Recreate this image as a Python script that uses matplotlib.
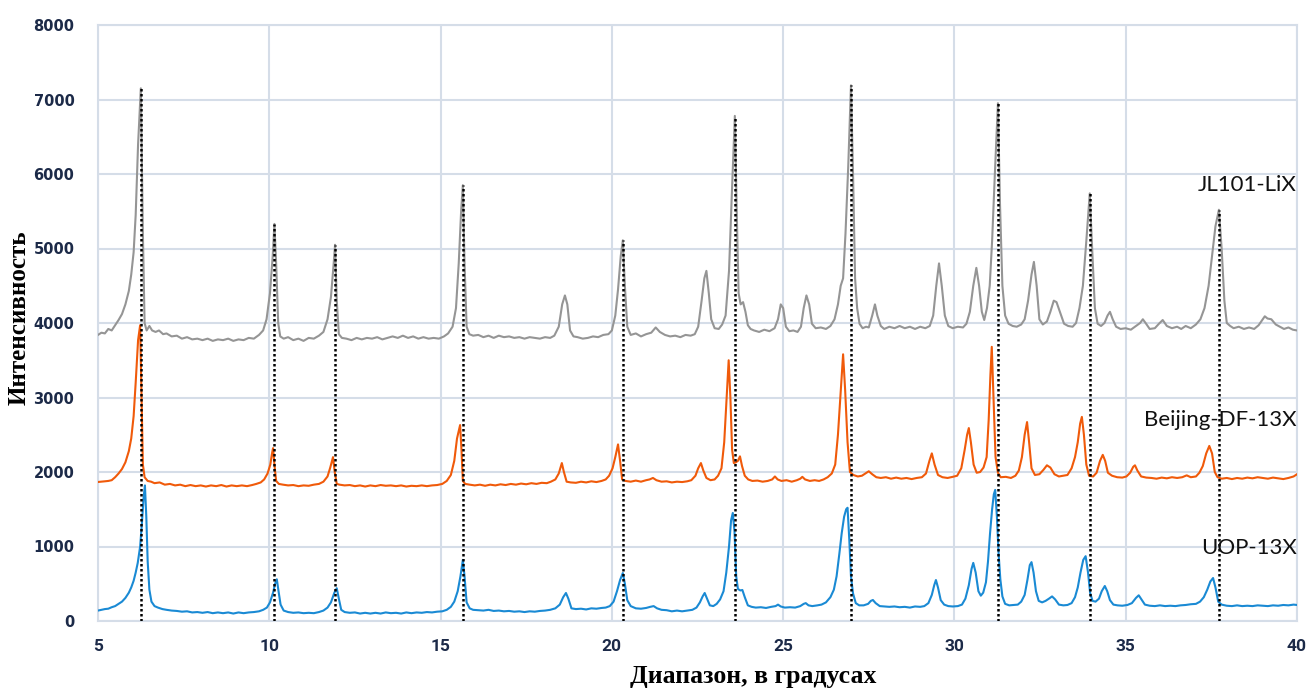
import numpy as np
import matplotlib
matplotlib.use('Agg')
import matplotlib.pyplot as plt

# 2theta / intensity points
lix_points = [
    (5.0, 3840), (5.1, 3870), (5.2, 3860), (5.3, 3920), (5.4, 3900), (5.5, 3970), (5.6, 4040),
    (5.7, 4120), (5.8, 4250), (5.9, 4430), (5.97, 4650), (6.04, 4950), (6.1, 5450), (6.17, 6400),
    (6.25, 7150), (6.31, 5200), (6.36, 4000), (6.42, 3900), (6.5, 3960), (6.58, 3900), (6.68, 3880),
    (6.78, 3900), (6.9, 3850), (7.0, 3860), (7.15, 3820), (7.3, 3830), (7.45, 3790), (7.6, 3810),
    (7.75, 3780), (7.9, 3790), (8.05, 3770), (8.2, 3790), (8.35, 3760), (8.5, 3780), (8.65, 3770),
    (8.8, 3790), (8.95, 3760), (9.1, 3780), (9.25, 3770), (9.4, 3800), (9.55, 3790), (9.7, 3840),
    (9.82, 3900), (9.92, 4050), (10.02, 4400), (10.1, 4900), (10.15, 5330), (10.2, 4800),
    (10.26, 4000), (10.32, 3820), (10.42, 3790), (10.55, 3810), (10.7, 3770), (10.85, 3790),
    (11.0, 3760), (11.15, 3800), (11.3, 3790), (11.45, 3830), (11.58, 3880), (11.7, 4050),
    (11.8, 4350), (11.88, 4800), (11.92, 5050), (11.97, 4300), (12.03, 3850), (12.12, 3800),
    (12.25, 3790), (12.4, 3770), (12.55, 3800), (12.7, 3780), (12.85, 3800), (13.0, 3790),
    (13.15, 3810), (13.3, 3780), (13.45, 3800), (13.6, 3820), (13.75, 3800), (13.9, 3830),
    (14.05, 3800), (14.2, 3820), (14.35, 3790), (14.5, 3810), (14.65, 3790), (14.8, 3800),
    (14.95, 3790), (15.1, 3820), (15.22, 3860), (15.35, 3950), (15.45, 4200), (15.53, 4800),
    (15.6, 5500), (15.65, 5850), (15.7, 4800), (15.76, 3950), (15.84, 3850), (15.95, 3830),
    (16.1, 3840), (16.25, 3810), (16.4, 3830), (16.55, 3800), (16.7, 3830), (16.85, 3810),
    (17.0, 3820), (17.15, 3800), (17.3, 3810), (17.45, 3790), (17.6, 3810), (17.75, 3800),
    (17.9, 3790), (18.05, 3810), (18.2, 3800), (18.32, 3830), (18.45, 3950), (18.55, 4250),
    (18.63, 4370), (18.7, 4250), (18.78, 3900), (18.88, 3820), (19.0, 3810), (19.15, 3790),
    (19.3, 3800), (19.45, 3820), (19.6, 3810), (19.75, 3840), (19.9, 3850), (20.0, 3900),
    (20.1, 4100), (20.18, 4450), (20.26, 4900), (20.32, 5110), (20.38, 4500), (20.45, 3950),
    (20.55, 3840), (20.7, 3860), (20.85, 3820), (21.0, 3850), (21.15, 3870), (21.28, 3940),
    (21.4, 3880), (21.55, 3840), (21.7, 3820), (21.85, 3830), (22.0, 3810), (22.15, 3840),
    (22.3, 3830), (22.42, 3850), (22.52, 3950), (22.62, 4300), (22.7, 4600), (22.76, 4700),
    (22.83, 4400), (22.9, 4050), (23.0, 3930), (23.12, 3920), (23.22, 3980), (23.32, 4100),
    (23.42, 4700), (23.5, 5700), (23.59, 6780), (23.65, 5400), (23.7, 4400), (23.76, 4250),
    (23.83, 4280), (23.9, 4150), (23.97, 3970), (24.05, 3920), (24.15, 3900), (24.3, 3880),
    (24.45, 3910), (24.6, 3890), (24.75, 3930), (24.85, 4050), (24.93, 4250), (25.0, 4200),
    (25.08, 3950), (25.18, 3890), (25.3, 3900), (25.42, 3880), (25.52, 3950), (25.6, 4200),
    (25.68, 4370), (25.76, 4250), (25.84, 3990), (25.95, 3930), (26.1, 3940), (26.25, 3920),
    (26.38, 3960), (26.5, 4050), (26.6, 4250), (26.68, 4500), (26.75, 4600), (26.82, 5200),
    (26.9, 6100), (26.98, 7190), (27.04, 6000), (27.1, 4600), (27.16, 4200), (27.23, 3990),
    (27.32, 3930), (27.42, 3950), (27.5, 3940), (27.6, 4100), (27.68, 4250), (27.75, 4100),
    (27.85, 3960), (27.95, 3920), (28.1, 3950), (28.25, 3930), (28.4, 3960), (28.55, 3930),
    (28.7, 3950), (28.85, 3920), (29.0, 3950), (29.15, 3930), (29.28, 3960), (29.38, 4100),
    (29.47, 4500), (29.55, 4800), (29.63, 4500), (29.72, 4100), (29.82, 3960), (29.95, 3930),
    (30.1, 3950), (30.25, 3940), (30.35, 3990), (30.45, 4150), (30.55, 4500), (30.64, 4740),
    (30.72, 4500), (30.8, 4150), (30.87, 4040), (30.95, 4200), (31.03, 4500), (31.1, 5100),
    (31.18, 6000), (31.27, 6950), (31.33, 5600), (31.4, 4500), (31.48, 4100), (31.58, 3990),
    (31.7, 3960), (31.82, 3950), (31.95, 3980), (32.05, 4050), (32.15, 4300), (32.25, 4650),
    (32.32, 4820), (32.4, 4500), (32.48, 4050), (32.58, 3980), (32.7, 4020), (32.8, 4150),
    (32.9, 4300), (32.98, 4280), (33.08, 4150), (33.2, 3990), (33.32, 3960), (33.45, 3950),
    (33.55, 4000), (33.65, 4200), (33.75, 4500), (33.85, 5100), (33.95, 5740), (34.02, 5000),
    (34.1, 4200), (34.18, 3990), (34.28, 3960), (34.38, 4000), (34.47, 4100), (34.54, 4150),
    (34.62, 4050), (34.72, 3950), (34.85, 3920), (35.0, 3930), (35.15, 3910), (35.3, 3960),
    (35.42, 4000), (35.5, 4050), (35.58, 4000), (35.7, 3920), (35.85, 3930), (35.97, 3990),
    (36.08, 4040), (36.2, 3960), (36.35, 3930), (36.5, 3950), (36.62, 3920), (36.75, 3960),
    (36.9, 3930), (37.05, 3980), (37.18, 4050), (37.3, 4200), (37.42, 4500), (37.52, 4900),
    (37.62, 5300), (37.72, 5520), (37.8, 5000), (37.88, 4300), (37.95, 4000), (38.05, 3960),
    (38.15, 3930), (38.3, 3950), (38.45, 3920), (38.6, 3940), (38.75, 3920), (38.88, 3970),
    (39.0, 4050), (39.06, 4090), (39.14, 4060), (39.25, 4050), (39.38, 3980), (39.5, 3950),
    (39.62, 3920), (39.75, 3940), (39.88, 3910), (40.0, 3900),
]

beijing_points = [
    (5.0, 1866), (5.1, 1870), (5.2, 1875), (5.3, 1880), (5.4, 1890), (5.5, 1930), (5.6, 1980),
    (5.7, 2040), (5.8, 2130), (5.9, 2280), (5.97, 2450), (6.04, 2750), (6.1, 3200), (6.17, 3770),
    (6.23, 3970), (6.27, 3000), (6.31, 2100), (6.36, 1930), (6.45, 1880), (6.55, 1870),
    (6.65, 1850), (6.8, 1860), (6.95, 1830), (7.1, 1840), (7.25, 1820), (7.4, 1830), (7.55, 1810),
    (7.7, 1825), (7.85, 1810), (8.0, 1820), (8.15, 1805), (8.3, 1820), (8.45, 1810), (8.6, 1825),
    (8.75, 1805), (8.9, 1820), (9.05, 1810), (9.2, 1820), (9.35, 1810), (9.5, 1825), (9.62, 1840),
    (9.75, 1860), (9.85, 1900), (9.95, 1980), (10.03, 2100), (10.08, 2250), (10.11, 2320),
    (10.15, 2100), (10.2, 1880), (10.28, 1840), (10.4, 1830), (10.55, 1820), (10.7, 1825),
    (10.85, 1810), (11.0, 1820), (11.15, 1815), (11.3, 1830), (11.45, 1840), (11.58, 1870),
    (11.7, 1940), (11.78, 2060), (11.86, 2200), (11.91, 2000), (11.97, 1840), (12.05, 1830),
    (12.2, 1820), (12.35, 1825), (12.5, 1810), (12.65, 1820), (12.8, 1805), (12.95, 1820),
    (13.1, 1810), (13.25, 1825), (13.4, 1815), (13.55, 1820), (13.7, 1810), (13.85, 1820),
    (14.0, 1805), (14.15, 1815), (14.3, 1810), (14.45, 1820), (14.6, 1810), (14.75, 1820),
    (14.9, 1825), (15.05, 1840), (15.18, 1880), (15.3, 1960), (15.4, 2150), (15.48, 2450),
    (15.57, 2630), (15.61, 2300), (15.65, 1880), (15.72, 1840), (15.85, 1830), (16.0, 1820),
    (16.15, 1830), (16.3, 1815), (16.45, 1830), (16.6, 1820), (16.75, 1835), (16.9, 1825),
    (17.05, 1840), (17.2, 1830), (17.35, 1845), (17.5, 1835), (17.65, 1850), (17.8, 1840),
    (17.95, 1855), (18.1, 1850), (18.22, 1870), (18.35, 1900), (18.45, 1980), (18.54, 2120),
    (18.6, 2000), (18.68, 1870), (18.8, 1860), (18.95, 1855), (19.1, 1870), (19.25, 1860),
    (19.4, 1875), (19.55, 1865), (19.7, 1880), (19.82, 1900), (19.92, 1950), (20.02, 2050),
    (20.1, 2200), (20.18, 2370), (20.24, 2150), (20.3, 1900), (20.4, 1880), (20.55, 1870),
    (20.7, 1885), (20.85, 1870), (21.0, 1890), (21.1, 1900), (21.2, 1920), (21.3, 1890),
    (21.45, 1870), (21.6, 1875), (21.75, 1860), (21.9, 1870), (22.05, 1865), (22.2, 1875),
    (22.32, 1890), (22.44, 1950), (22.52, 2050), (22.6, 2120), (22.67, 2020), (22.76, 1920),
    (22.88, 1890), (23.0, 1900), (23.1, 1950), (23.2, 2050), (23.28, 2400), (23.35, 3000),
    (23.41, 3500), (23.46, 3000), (23.51, 2300), (23.56, 2120), (23.62, 2130), (23.68, 2150),
    (23.74, 2210), (23.8, 2080), (23.88, 1950), (23.98, 1900), (24.1, 1880), (24.25, 1885),
    (24.4, 1870), (24.55, 1880), (24.68, 1900), (24.76, 1940), (24.84, 1900), (24.95, 1880),
    (25.1, 1890), (25.25, 1870), (25.4, 1890), (25.5, 1910), (25.56, 1935), (25.64, 1900),
    (25.78, 1880), (25.92, 1890), (26.05, 1880), (26.18, 1900), (26.3, 1930), (26.42, 1980),
    (26.52, 2100), (26.6, 2500), (26.67, 3000), (26.75, 3580), (26.81, 3100), (26.88, 2400),
    (26.95, 2000), (27.05, 1960), (27.18, 1940), (27.3, 1950), (27.4, 1980), (27.5, 2010),
    (27.6, 1970), (27.72, 1930), (27.85, 1920), (28.0, 1930), (28.15, 1910), (28.3, 1925),
    (28.45, 1910), (28.6, 1920), (28.75, 1905), (28.9, 1920), (29.05, 1930), (29.17, 1980),
    (29.27, 2150), (29.34, 2250), (29.42, 2100), (29.52, 1960), (29.65, 1930), (29.8, 1920),
    (29.95, 1935), (30.08, 1950), (30.2, 2050), (30.3, 2300), (30.37, 2500), (30.42, 2590),
    (30.48, 2400), (30.56, 2100), (30.65, 1990), (30.75, 2000), (30.85, 2060), (30.94, 2200),
    (31.0, 2700), (31.05, 3300), (31.09, 3680), (31.14, 3000), (31.2, 2200), (31.27, 1990),
    (31.35, 1930), (31.5, 1935), (31.65, 1920), (31.78, 1950), (31.88, 2020), (31.97, 2200),
    (32.05, 2500), (32.12, 2670), (32.18, 2400), (32.25, 2050), (32.35, 1960), (32.48, 1970),
    (32.6, 2030), (32.7, 2090), (32.8, 2060), (32.92, 1970), (33.05, 1940), (33.18, 1950),
    (33.3, 1960), (33.42, 2050), (33.52, 2200), (33.6, 2400), (33.67, 2650), (33.72, 2740),
    (33.78, 2500), (33.85, 2100), (33.93, 1950), (34.05, 1940), (34.15, 1990), (34.25, 2150),
    (34.33, 2230), (34.4, 2150), (34.48, 1990), (34.6, 1950), (34.75, 1930), (34.9, 1925),
    (35.02, 1940), (35.13, 1990), (35.22, 2070), (35.27, 2090), (35.34, 2020), (35.45, 1940),
    (35.6, 1925), (35.75, 1920), (35.9, 1910), (36.05, 1925), (36.2, 1915), (36.35, 1930),
    (36.5, 1920), (36.65, 1930), (36.78, 1955), (36.9, 1930), (37.05, 1940), (37.15, 1990),
    (37.25, 2080), (37.35, 2250), (37.44, 2350), (37.52, 2250), (37.6, 2000), (37.68, 1930),
    (37.8, 1910), (37.95, 1920), (38.1, 1905), (38.25, 1920), (38.4, 1910), (38.55, 1925),
    (38.7, 1915), (38.85, 1930), (39.0, 1920), (39.15, 1910), (39.3, 1925), (39.45, 1915),
    (39.6, 1905), (39.75, 1920), (39.9, 1940), (40.0, 1970),
]

uop_points = [
    (5.0, 140), (5.1, 150), (5.2, 160), (5.3, 165), (5.4, 185), (5.5, 200), (5.6, 230),
    (5.7, 260), (5.8, 310), (5.9, 380), (5.97, 450), (6.04, 540), (6.1, 650), (6.16, 780),
    (6.23, 1000), (6.28, 1300), (6.33, 1650), (6.37, 1820), (6.41, 1400), (6.45, 800),
    (6.5, 420), (6.56, 260), (6.65, 200), (6.75, 180), (6.88, 160), (7.0, 150), (7.15, 140),
    (7.3, 135), (7.45, 125), (7.6, 130), (7.75, 115), (7.9, 120), (8.05, 110), (8.2, 120),
    (8.35, 105), (8.5, 115), (8.65, 105), (8.8, 115), (8.95, 100), (9.1, 115), (9.25, 105),
    (9.4, 115), (9.55, 120), (9.7, 130), (9.82, 150), (9.93, 180), (10.02, 250), (10.11, 380),
    (10.17, 500), (10.22, 560), (10.27, 400), (10.33, 220), (10.42, 140), (10.55, 120),
    (10.7, 110), (10.85, 115), (11.0, 105), (11.15, 110), (11.3, 105), (11.45, 120),
    (11.58, 140), (11.7, 180), (11.8, 250), (11.9, 380), (11.97, 440), (12.03, 300),
    (12.1, 150), (12.2, 120), (12.35, 110), (12.5, 115), (12.65, 100), (12.8, 110),
    (12.95, 100), (13.1, 110), (13.25, 100), (13.4, 115), (13.55, 105), (13.7, 110),
    (13.85, 100), (14.0, 115), (14.15, 105), (14.3, 115), (14.45, 110), (14.6, 120),
    (14.75, 115), (14.9, 125), (15.05, 130), (15.18, 150), (15.3, 190), (15.4, 260),
    (15.5, 400), (15.58, 600), (15.65, 820), (15.7, 600), (15.76, 250), (15.85, 170),
    (15.95, 150), (16.1, 145), (16.25, 140), (16.4, 150), (16.55, 135), (16.7, 140),
    (16.85, 130), (17.0, 135), (17.15, 125), (17.3, 130), (17.45, 120), (17.6, 130),
    (17.75, 125), (17.9, 135), (18.05, 140), (18.2, 150), (18.35, 170), (18.48, 220),
    (18.58, 320), (18.66, 376), (18.73, 300), (18.82, 170), (18.95, 160), (19.1, 165),
    (19.25, 155), (19.4, 170), (19.55, 165), (19.7, 175), (19.82, 180), (19.94, 200),
    (20.05, 260), (20.15, 400), (20.24, 550), (20.32, 644), (20.38, 500), (20.45, 280),
    (20.55, 200), (20.7, 170), (20.85, 165), (21.0, 175), (21.12, 190), (21.22, 200),
    (21.32, 170), (21.45, 150), (21.6, 145), (21.75, 130), (21.9, 140), (22.05, 130),
    (22.2, 140), (22.35, 150), (22.47, 180), (22.57, 250), (22.65, 330), (22.71, 376),
    (22.78, 300), (22.86, 210), (22.96, 200), (23.06, 230), (23.16, 290), (23.26, 400),
    (23.34, 650), (23.42, 1000), (23.48, 1350), (23.53, 1450), (23.58, 1200), (23.63, 600),
    (23.68, 430), (23.75, 410), (23.81, 416), (23.88, 320), (23.97, 210), (24.08, 190),
    (24.2, 180), (24.35, 185), (24.5, 175), (24.65, 190), (24.78, 200), (24.85, 220),
    (24.93, 195), (25.05, 180), (25.2, 185), (25.35, 180), (25.5, 200), (25.6, 230),
    (25.66, 240), (25.74, 210), (25.85, 200), (26.0, 210), (26.12, 220), (26.25, 250),
    (26.38, 320), (26.48, 420), (26.56, 600), (26.64, 900), (26.71, 1180), (26.78, 1400),
    (26.84, 1500), (26.88, 1520), (26.93, 1100), (26.98, 600), (27.04, 370), (27.12, 240),
    (27.22, 210), (27.35, 210), (27.48, 230), (27.56, 270), (27.62, 282), (27.7, 240),
    (27.82, 200), (27.95, 195), (28.1, 190), (28.25, 195), (28.4, 185), (28.55, 190),
    (28.7, 180), (28.85, 195), (29.0, 190), (29.12, 200), (29.24, 240), (29.34, 350),
    (29.41, 480), (29.46, 550), (29.52, 450), (29.6, 280), (29.7, 220), (29.82, 200),
    (29.95, 195), (30.1, 200), (30.22, 220), (30.32, 300), (30.42, 480), (30.5, 700),
    (30.55, 780), (30.62, 650), (30.7, 400), (30.77, 340), (30.84, 380), (30.92, 520),
    (30.98, 800), (31.04, 1180), (31.1, 1500), (31.15, 1700), (31.19, 1760), (31.24, 1400),
    (31.29, 900), (31.34, 560), (31.4, 330), (31.48, 230), (31.6, 210), (31.72, 215),
    (31.85, 220), (31.95, 260), (32.05, 350), (32.13, 550), (32.2, 750), (32.25, 790),
    (32.31, 650), (32.38, 400), (32.46, 270), (32.56, 250), (32.66, 270), (32.76, 300),
    (32.85, 330), (32.94, 290), (33.05, 220), (33.18, 210), (33.3, 215), (33.42, 240),
    (33.52, 320), (33.6, 450), (33.68, 650), (33.76, 820), (33.83, 870), (33.9, 650),
    (33.96, 380), (34.03, 270), (34.12, 260), (34.22, 300), (34.3, 400), (34.39, 470),
    (34.46, 400), (34.54, 280), (34.64, 220), (34.76, 210), (34.9, 205), (35.05, 215),
    (35.18, 240), (35.3, 310), (35.38, 345), (35.46, 290), (35.56, 220), (35.7, 205),
    (35.85, 200), (36.0, 210), (36.15, 200), (36.3, 205), (36.45, 200), (36.6, 210),
    (36.75, 215), (36.9, 225), (37.05, 230), (37.17, 260), (37.28, 320), (37.38, 420),
    (37.47, 530), (37.55, 577), (37.62, 450), (37.7, 260), (37.8, 220), (37.95, 205),
    (38.1, 200), (38.25, 210), (38.4, 200), (38.55, 205), (38.7, 200), (38.85, 210),
    (39.0, 205), (39.15, 200), (39.3, 210), (39.45, 205), (39.6, 215), (39.75, 210),
    (39.9, 220), (40.0, 215),
]

# reference reflections (dotted lines) and their heights
ref_peaks = [6.25, 10.15, 11.92, 15.65, 20.32, 23.59, 26.98, 31.27, 33.95, 37.72]
ref_heights = [7150, 5330, 5050, 5850, 5110, 6780, 7190, 6950, 5740, 5520]

series_names = ['JL101-LiX', 'Beijing-DF-13X', 'UOP-13X']
label_y = [5850, 2700, 980]

x_ticks = [5, 10, 15, 20, 25, 30, 35, 40]
y_ticks = [0, 1000, 2000, 3000, 4000, 5000, 6000, 7000, 8000]

grid_col = '#d5dde8'
tick_col = '#1c2a48'

fig = plt.figure(figsize=(13.09, 6.91), dpi=100)
ax = fig.add_axes([98 / 1309, 1 - 621 / 691, (1297 - 98) / 1309, (621 - 25) / 691])

colors = ['#959595', '#f05a0a', '#1a8ad4']
for pts, c in zip([lix_points, beijing_points, uop_points], colors):
    x, y = zip(*pts)
    ax.plot(x, y, color=c, linewidth=1.5, zorder=3)

ax.vlines(ref_peaks, 0, ref_heights, colors='black', linestyles=(0, (1, 1)),
          linewidth=1.8, zorder=4)

for name, yy in zip(series_names, label_y):
    ax.text(40, yy, name, ha='right', va='center', fontsize=16,
            family='Lato', color='#111111', zorder=5)

ax.set_xlim(5, 40)
ax.set_ylim(0, 8000)
ax.set_xticks(x_ticks)
ax.set_yticks(y_ticks)
ax.grid(True, color=grid_col, linewidth=1.5, zorder=0)
ax.set_axisbelow(True)
for s in ax.spines.values():
    s.set_color(grid_col)
    s.set_linewidth(1.5)
ax.tick_params(length=0)
ax.tick_params(axis='y', pad=17)
ax.tick_params(axis='x', pad=13)
for lab in ax.get_yticklabels():
    lab.set_fontfamily('DejaVu Sans')
    lab.set_fontweight('bold')
    lab.set_fontsize(10.5)
    lab.set_color(tick_col)
for lab in ax.get_xticklabels():
    lab.set_fontfamily('Roboto')
    lab.set_fontweight('bold')
    lab.set_fontsize(12.5)
    lab.set_color(tick_col)

fig.text(753 / 1309, 1 - 677 / 691, 'Диапазон, в градусах', ha='center', va='center',
         family='Liberation Serif', fontweight='bold', fontsize=18.5)
fig.text(19 / 1309, 1 - 318 / 691, 'Интенсивность', ha='center', va='center',
         rotation=90, family='Liberation Serif', fontweight='bold', fontsize=18)

fig.savefig('out.png', dpi=100)
